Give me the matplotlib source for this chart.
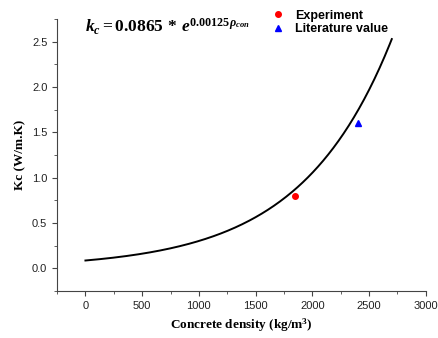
import numpy as np
import matplotlib
matplotlib.use("Agg")
import matplotlib.pyplot as plt
from matplotlib.ticker import MultipleLocator

# fitted model k_c = a * exp(b * rho)
fit_a = 0.0865
fit_b = 0.00125
rho_range = [0, 2700]

exp_rho = [1850]
exp_kc = [0.80]
lit_rho = [2400]
lit_kc = [1.60]

rho = np.linspace(rho_range[0], rho_range[1], 300)
kc = fit_a * np.exp(fit_b * rho)

plt.rcParams["font.family"] = ["Liberation Sans", "DejaVu Sans"]
plt.rcParams["mathtext.fontset"] = "custom"
plt.rcParams["mathtext.rm"] = "Liberation Serif:bold"
plt.rcParams["mathtext.it"] = "Liberation Serif:italic:bold"
plt.rcParams["mathtext.bf"] = "Liberation Serif:bold"

fig = plt.figure(figsize=(4.39, 3.38), dpi=100)
ax = fig.add_axes([0.13, 0.139, 0.84, 0.805])

ax.plot(rho, kc, color="black", lw=1.4)
ax.plot(exp_rho, exp_kc, "o", color="red", ms=4, label="Experiment")
ax.plot(lit_rho, lit_kc, "^", color="blue", ms=4.5, label="Literature value")

ax.set_xlim(-250, 3000)
ax.set_ylim(-0.25, 2.75)
ax.xaxis.set_major_locator(MultipleLocator(500))
ax.xaxis.set_minor_locator(MultipleLocator(250))
ax.yaxis.set_major_locator(MultipleLocator(0.5))
ax.yaxis.set_minor_locator(MultipleLocator(0.25))
ax.tick_params(which="both", direction="out", labelsize=8, color="#444444", labelcolor="#222222")
ax.tick_params(which="major", length=3.5)
ax.tick_params(which="minor", length=2)
ax.yaxis.set_major_formatter(matplotlib.ticker.FormatStrFormatter("%.1f"))

for s in ["top", "right"]:
    ax.spines[s].set_visible(False)
for s in ["left", "bottom"]:
    ax.spines[s].set_color("#444444")

ax.set_xlabel("Concrete density (kg/m$^3$)", family="Liberation Serif",
              fontweight="bold", fontsize=9.5)
ax.set_ylabel("Kc (W/m.K)", family="Liberation Serif", fontweight="bold", fontsize=9.5)

fig.text(0.194, 0.922, r"$k_c = 0.0865\,*\,e^{0.00125\rho_{con}}$",
         fontsize=12.5, ha="left", va="center")

ax.legend(loc="upper left", bbox_to_anchor=(0.548, 1.075), frameon=False,
          prop={"weight": "bold", "size": 9}, handletextpad=0.8,
          labelspacing=0.1, handlelength=1.2)

fig.savefig("out.png", dpi=100)
